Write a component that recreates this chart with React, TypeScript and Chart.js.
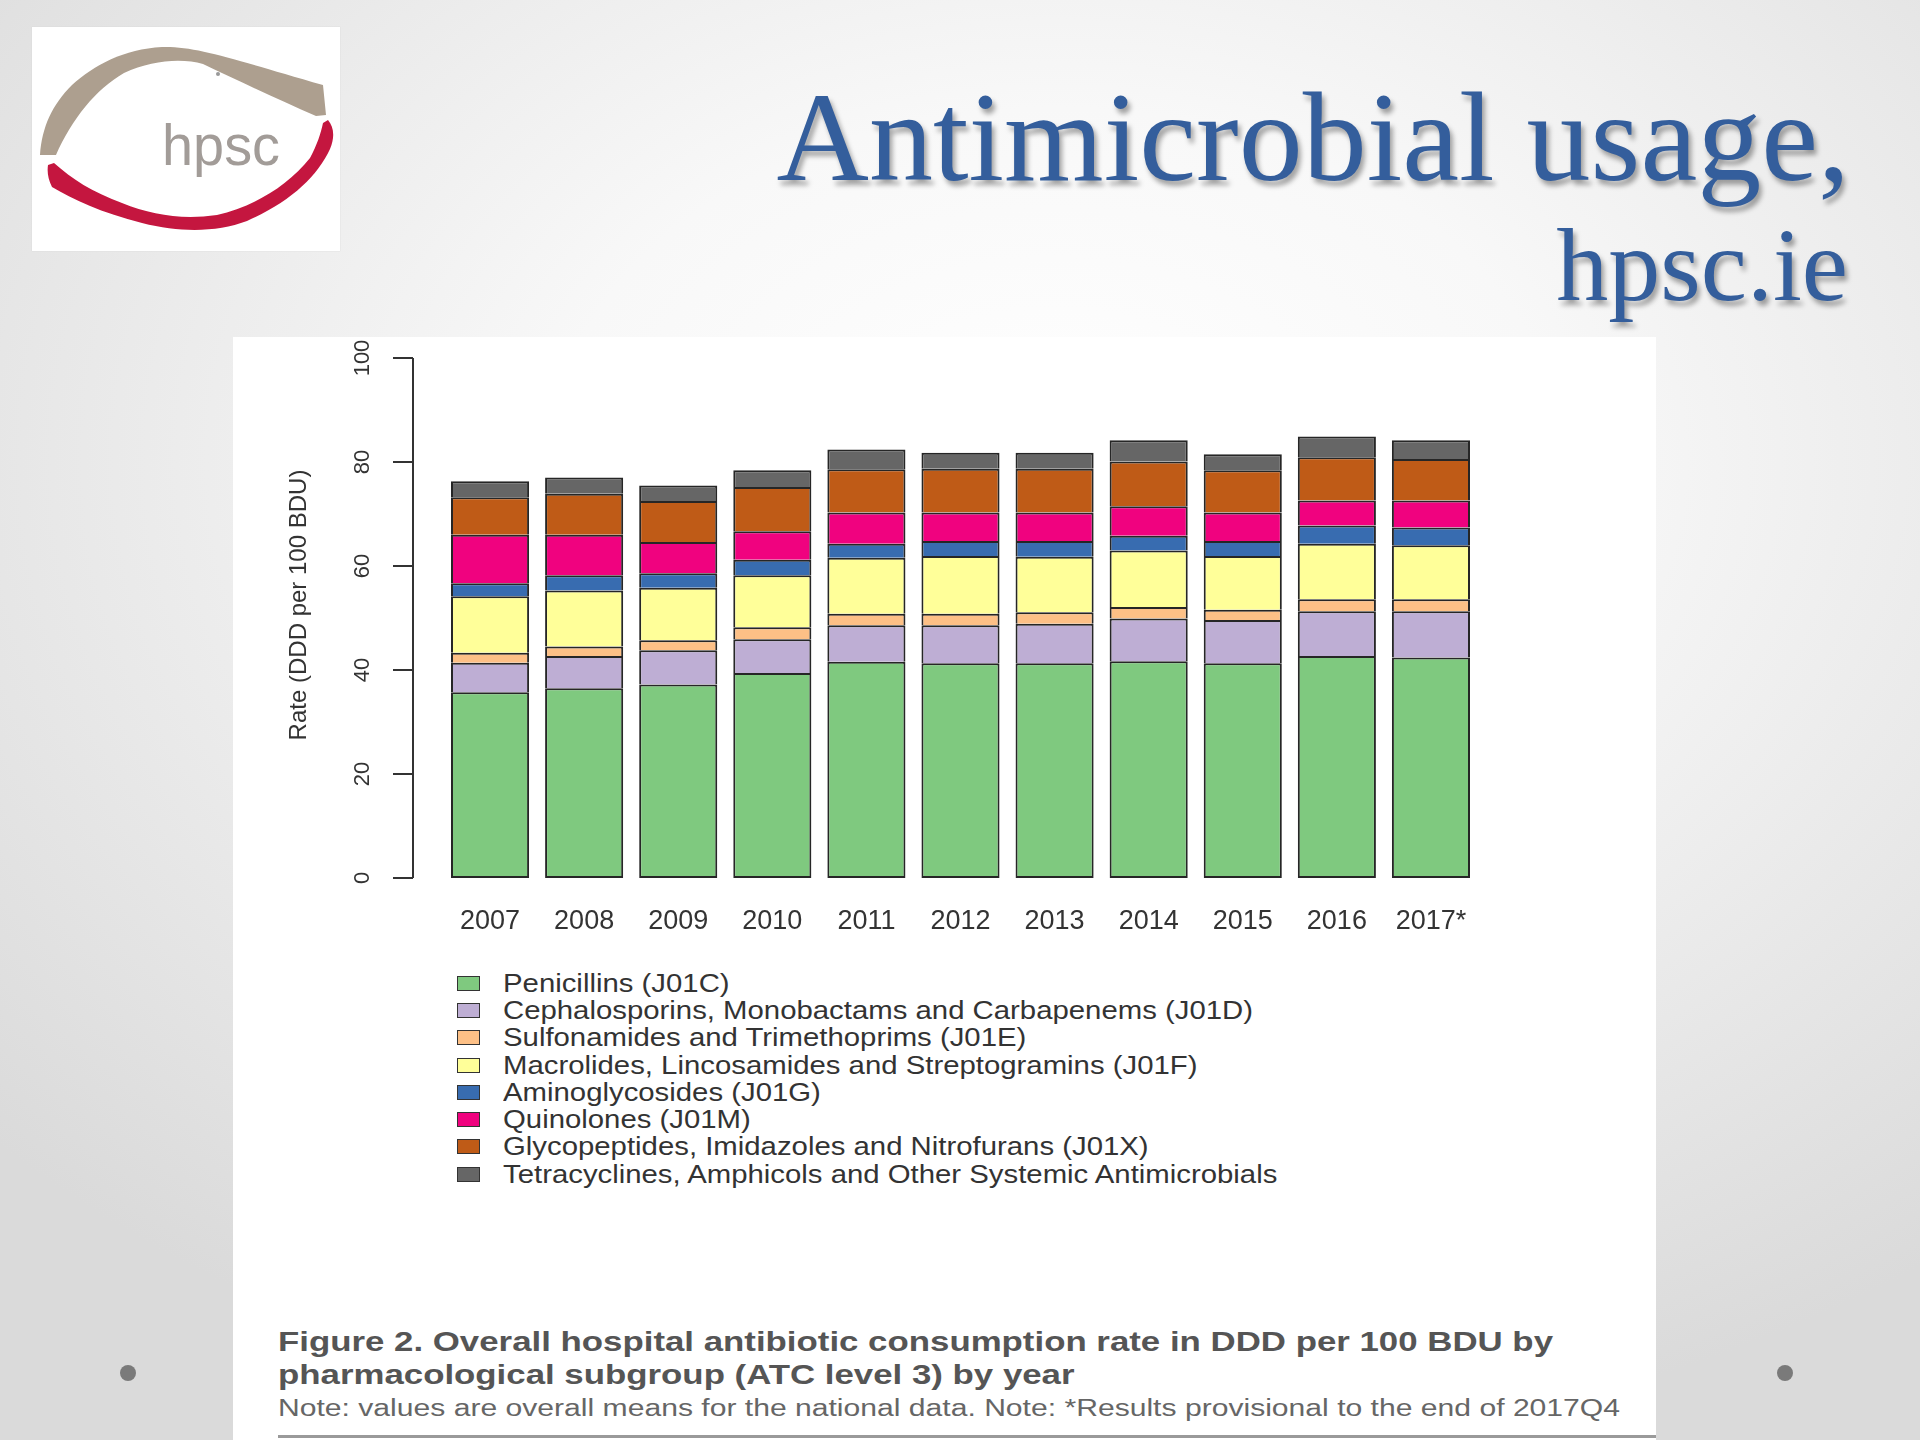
import React, { useEffect, useRef } from 'react';
import { Chart, registerables } from 'chart.js';

Chart.register(...registerables);

// ---------- data ----------
const years = ['2007', '2008', '2009', '2010', '2011', '2012', '2013', '2014', '2015', '2016', '2017*'];
const yTicks = [0, 20, 40, 60, 80, 100];

const seriesNames = [
  'Penicillins (J01C)',
  'Cephalosporins, Monobactams and Carbapenems (J01D)',
  'Sulfonamides and Trimethoprims (J01E)',
  'Macrolides, Lincosamides and Streptogramins (J01F)',
  'Aminoglycosides (J01G)',
  'Quinolones (J01M)',
  'Glycopeptides, Imidazoles and Nitrofurans (J01X)',
  'Tetracyclines, Amphicols and Other Systemic Antimicrobials',
];
const seriesColors = ['#7FC97F', '#BEAED4', '#FDC086', '#FFFF99', '#386CB0', '#F0027F', '#BF5B17', '#666666'];

const penicillins = [35.7, 36.5, 37.2, 39.4, 41.6, 41.3, 41.3, 41.7, 41.3, 42.7, 42.4];
const cephalosporins = [5.7, 6.2, 6.6, 6.5, 7.0, 7.3, 7.6, 8.2, 8.3, 8.6, 8.9];
const sulfonamides = [1.9, 1.8, 1.9, 2.3, 2.2, 2.2, 2.2, 2.2, 2.0, 2.3, 2.3];
const macrolides = [10.9, 10.8, 10.1, 10.0, 10.8, 11.1, 10.7, 10.9, 10.3, 10.7, 10.4];
const aminoglycosides = [2.5, 2.9, 2.8, 3.0, 2.7, 2.9, 3.0, 2.8, 2.9, 3.5, 3.4];
const quinolones = [9.3, 7.8, 6.0, 5.5, 6.0, 5.5, 5.5, 5.7, 5.5, 4.8, 5.2];
const glycopeptides = [7.2, 7.9, 7.9, 8.5, 8.3, 8.4, 8.4, 8.6, 8.1, 8.3, 8.0];
const tetracyclines = [3.1, 3.1, 3.0, 3.2, 3.8, 3.1, 3.1, 4.1, 3.1, 4.0, 3.6];

const seriesValues = [penicillins, cephalosporins, sulfonamides, macrolides, aminoglycosides, quinolones, glycopeptides, tetracyclines];

const yAxisTitle = 'Rate (DDD per 100 BDU)';
const titleLine1 = 'Antimicrobial usage,';
const titleLine2 = 'hpsc.ie';
const captionBold1 = 'Figure 2. Overall hospital antibiotic consumption rate in DDD per 100 BDU by';
const captionBold2 = 'pharmacological subgroup (ATC level 3) by year';
const captionNote = 'Note: values are overall means for the national data. Note: *Results provisional to the end of 2017Q4';

const SANS = '"Liberation Sans", Arial, Helvetica, sans-serif';
const SERIF = '"Liberation Serif", "DejaVu Serif", serif';

function measure(text: string, font: string): number {
  const c = document.createElement('canvas').getContext('2d');
  if (!c) return 1;
  c.font = font;
  return c.measureText(text).width || 1;
}

// R-style y axis drawn with the chart's own y scale
const rAxisPlugin = {
  id: 'rAxis',
  afterDraw(chart: any) {
    const ys = chart.scales.y;
    const ctx = chart.ctx;
    const x0 = chart.chartArea.left - 30;
    ctx.save();
    ctx.strokeStyle = '#333';
    ctx.lineWidth = 2;
    ctx.beginPath();
    ctx.moveTo(x0, ys.getPixelForValue(yTicks[0]));
    ctx.lineTo(x0, ys.getPixelForValue(yTicks[yTicks.length - 1]));
    ctx.stroke();
    ctx.fillStyle = '#333';
    ctx.font = `22px ${SANS}`;
    ctx.textAlign = 'center';
    ctx.textBaseline = 'middle';
    for (const t of yTicks) {
      const py = ys.getPixelForValue(t);
      ctx.beginPath();
      ctx.moveTo(x0, py);
      ctx.lineTo(x0 - 20, py);
      ctx.stroke();
      ctx.save();
      ctx.translate(x0 - 50, py);
      ctx.rotate(-Math.PI / 2);
      ctx.fillText(String(t), 0, 0);
      ctx.restore();
    }
    ctx.font = `24px ${SANS}`;
    ctx.save();
    ctx.translate(x0 - 114, (ys.top + ys.bottom) / 2 - 13);
    ctx.rotate(-Math.PI / 2);
    ctx.fillText(yAxisTitle, 0, 0);
    ctx.restore();
    ctx.restore();
  },
};

function BarChart() {
  const ref = useRef<HTMLCanvasElement | null>(null);
  useEffect(() => {
    if (!ref.current) return;
    const chart = new Chart(ref.current, {
      type: 'bar',
      data: {
        labels: years,
        datasets: seriesNames.map((name, i) => ({
          label: name,
          data: seriesValues[i],
          backgroundColor: seriesColors[i],
          borderColor: '#262626',
          borderWidth: 2,
          borderSkipped: i === 0 ? false : 'start',
          barPercentage: 0.83,
          categoryPercentage: 1,
        })),
      },
      options: {
        animation: false,
        responsive: false,
        maintainAspectRatio: false,
        layout: { padding: { top: 21, right: 178, bottom: 0, left: 0 } },
        plugins: { legend: { display: false }, tooltip: { enabled: false } },
        scales: {
          x: {
            stacked: true,
            grid: { display: false, drawTicks: false },
            border: { display: false },
            ticks: { font: { family: SANS, size: 27 }, color: '#333', padding: 27, maxRotation: 0, autoSkip: false },
            afterFit: (s: any) => { s.height = 79; },
          },
          y: {
            stacked: true,
            min: 0,
            max: 100,
            grid: { display: false, drawTicks: false },
            border: { display: false },
            ticks: { display: false },
            afterFit: (s: any) => { s.width = 210; },
          },
        },
      } as any,
      plugins: [rAxisPlugin],
    });
    return () => chart.destroy();
  }, []);
  return (
    <canvas
      ref={ref}
      width={1423}
      height={620}
      style={{ position: 'absolute', left: 233, top: 337, width: 1423, height: 620, display: 'block' }}
    />
  );
}

function Logo() {
  return (
    <div style={{ position: 'absolute', left: 32, top: 27, width: 308, height: 224, background: '#fff', boxShadow: '0 0 1px #ccc' }}>
      <svg width={308} height={224} viewBox="0 0 308 224">
        <path
          d="M8,128 C10,100 20,78 40,58 C62,38 92,22 130,20 C165,19 200,32 291,58 L294,88 L284,89 C250,74 215,58 171,37 C150,31 120,33 92,46 C64,62 40,92 24,128 Z"
          fill="#ad9f8f"
        />
        <path
          d="M16,138 L22,136 C40,152 60,165 90,176 C120,188 150,193 185,188 C220,180 255,160 278,131 C285,118 289,106 291,96 L296,93 C302,100 303,110 298,122 C285,150 258,175 215,194 C185,205 150,206 110,196 C70,186 40,172 20,160 C16,152 15,145 16,138 Z"
          fill="#c4163f"
        />
        <text x={130} y={138} fontFamily={SANS} fontSize={58} fill="#a29c98" textLength={118} lengthAdjust="spacingAndGlyphs">
          hpsc
        </text>
        <circle cx={186} cy={47} r={2} fill="#999" />
      </svg>
    </div>
  );
}

function FitText(props: { text: string; font: string; width: number; left: number; top: number; color: string; lineHeight: number }) {
  const natural = measure(props.text, props.font);
  const sx = props.width / natural;
  return (
    <div
      style={{
        position: 'absolute',
        left: props.left,
        top: props.top,
        font: props.font,
        lineHeight: `${props.lineHeight}px`,
        color: props.color,
        whiteSpace: 'nowrap',
        transform: `scaleX(${sx})`,
        transformOrigin: 'left center',
      }}
    >
      {props.text}
    </div>
  );
}

function Legend() {
  const font = `25px ${SANS}`;
  const sx = 750 / measure(seriesNames[1], font);
  return (
    <div style={{ position: 'absolute', left: 457, top: 969.5 }}>
      {seriesNames.map((name, i) => (
        <div key={name} style={{ display: 'flex', alignItems: 'center', height: 27.3 }}>
          <div
            style={{
              width: 23,
              height: 15,
              boxSizing: 'border-box',
              border: '1.5px solid #333',
              background: seriesColors[i],
              flex: 'none',
            }}
          />
          <div
            style={{
              marginLeft: 23,
              font,
              lineHeight: '27px',
              color: '#333',
              whiteSpace: 'nowrap',
              transform: `scaleX(${sx})`,
              transformOrigin: 'left center',
            }}
          >
            {name}
          </div>
        </div>
      ))}
    </div>
  );
}

export default function App() {
  const boldFont = `bold 28px ${SANS}`;
  const noteFont = `23px ${SANS}`;
  const boldScale = 1275 / measure(captionBold1, boldFont);
  return (
    <div
      style={{
        position: 'absolute',
        left: 0,
        top: 0,
        width: 1920,
        height: 1440,
        overflow: 'hidden',
        background: 'radial-gradient(ellipse 75% 70% at 55% 32%, #ffffff 0%, #f8f8f8 35%, #dadada 100%)',
      }}
    >
      <Logo />
      <div
        style={{
          position: 'absolute',
          right: 70,
          top: 73,
          fontFamily: SERIF,
          fontSize: 128,
          lineHeight: '128px',
          color: '#345E9C',
          whiteSpace: 'nowrap',
          textShadow: '3px 5px 5px rgba(0,0,0,0.35)',
        }}
      >
        {titleLine1}
      </div>
      <div
        style={{
          position: 'absolute',
          right: 72,
          top: 213,
          fontFamily: SERIF,
          fontSize: 104,
          lineHeight: '104px',
          color: '#345E9C',
          whiteSpace: 'nowrap',
          textShadow: '3px 5px 5px rgba(0,0,0,0.35)',
        }}
      >
        {titleLine2}
      </div>

      <div style={{ position: 'absolute', left: 233, top: 337, width: 1423, height: 1103, background: '#fff' }} />
      <BarChart />
      <Legend />

      <div style={{ position: 'absolute', left: 278, top: 1327, transform: `scaleX(${boldScale})`, transformOrigin: 'left center', font: boldFont, lineHeight: '30px', color: '#555', whiteSpace: 'nowrap' }}>
        {captionBold1}
      </div>
      <div style={{ position: 'absolute', left: 278, top: 1360, transform: `scaleX(${boldScale})`, transformOrigin: 'left center', font: boldFont, lineHeight: '30px', color: '#555', whiteSpace: 'nowrap' }}>
        {captionBold2}
      </div>
      <FitText text={captionNote} font={noteFont} width={1342} left={278} top={1395} color="#666" lineHeight={26} />
      <div style={{ position: 'absolute', left: 278, top: 1435, width: 1378, height: 3, background: '#9a9a9a' }} />

      <div style={{ position: 'absolute', left: 120, top: 1365, width: 16, height: 16, borderRadius: 8, background: '#7a7a7a' }} />
      <div style={{ position: 'absolute', left: 1777, top: 1365, width: 16, height: 16, borderRadius: 8, background: '#7a7a7a' }} />
    </div>
  );
}
